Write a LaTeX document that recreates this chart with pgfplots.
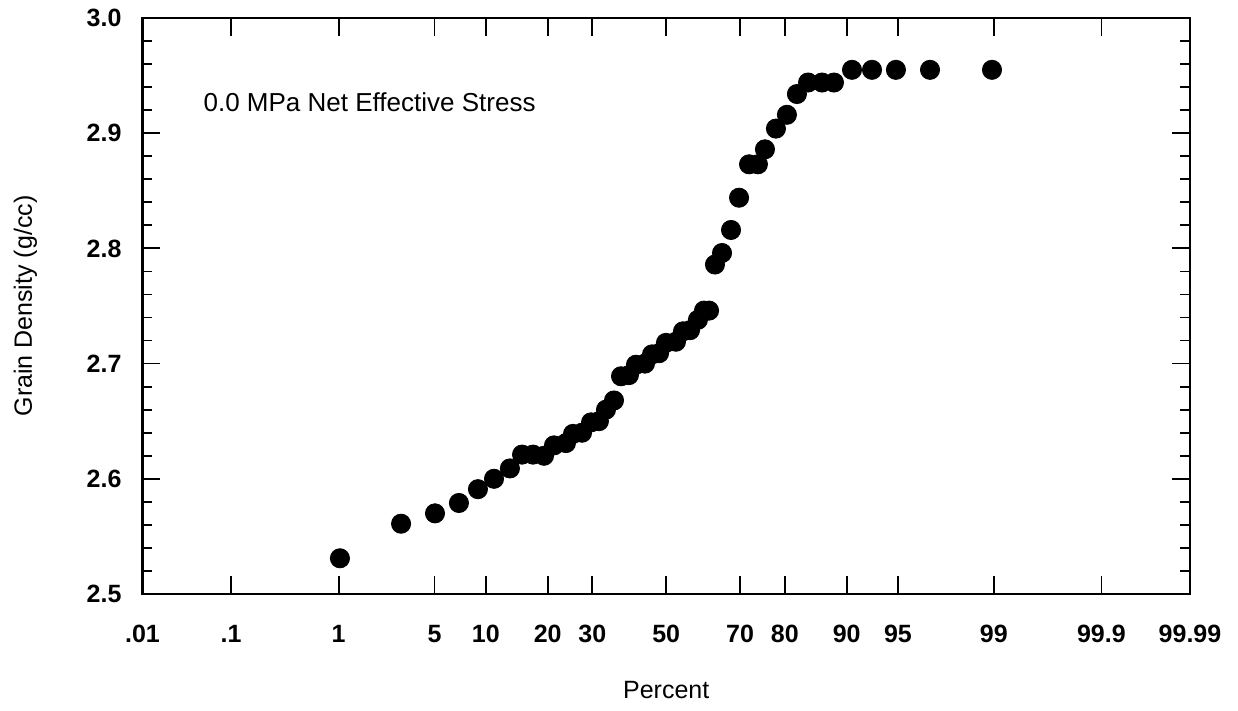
\documentclass[border=0pt]{standalone}
\usepackage{fontspec}
\setmainfont{Liberation Sans}
\usepackage{pgfplots}
\pgfplotsset{compat=1.18}

% x is the standard normal quantile of the cumulative percent
\pgfplotstableread{
z      rho
-2.317 2.531
-1.883 2.561
-1.642 2.570
-1.472 2.579
-1.337 2.591
-1.223 2.600
-1.110 2.609
-1.024 2.621
-0.946 2.621
-0.868 2.620
-0.797 2.629
-0.712 2.631
-0.662 2.639
-0.598 2.640
-0.534 2.649
-0.478 2.650
-0.428 2.660
-0.371 2.668
-0.321 2.689
-0.265 2.690
-0.215 2.699
-0.151 2.700
-0.101 2.708
-0.051 2.709
-0.002 2.718
0.069  2.719
0.119  2.728
0.169  2.729
0.225  2.738
0.268  2.746
0.304  2.746
0.346  2.786
0.396  2.796
0.460  2.816
0.517  2.844
0.588  2.873
0.651  2.873
0.701  2.886
0.779  2.904
0.857  2.916
0.928  2.934
1.007  2.944
1.106  2.944
1.191  2.944
1.319  2.955
1.461  2.955
1.631  2.955
1.873  2.955
2.313  2.955
}\grain

\begin{document}
\begin{tikzpicture}
\begin{axis}[
    at={(0,0)}, anchor=south west,
    scale only axis,
    width=523.75pt, height=288pt,
    xmin=-3.719, xmax=3.719,
    ymin=2.5, ymax=3.0,
    xtick={-3.719,-3.090,-2.326,-1.645,-1.2816,-0.8416,-0.5244,0,0.5244,0.8416,1.2816,1.645,2.326,3.090,3.719},
    xticklabels={.01,.1,1,5,10,20,30,50,70,80,90,95,99,99.9,99.99},
    ytick={2.5,2.6,2.7,2.8,2.9,3.0},
    yticklabels={2.5,2.6,2.7,2.8,2.9,3.0},
    minor y tick num=4,
    tick align=inside,
    major tick length=9pt,
    minor tick length=5pt,
    axis line style={line width=1.3pt},
    tick style={line width=0.9pt, black},
    ticklabel style={font=\fontsize{12.5}{14}\selectfont\bfseries},
    xticklabel style={yshift=-12pt},
    yticklabel style={xshift=-7pt},
    clip=false,
]
\addplot[only marks, mark=*, mark size=4.8pt, mark options={draw=black, fill=black}]
    table[x=z, y=rho] {\grain};

\node[anchor=west, font=\fontsize{13}{15}\selectfont] at (axis cs:-3.335,2.927)
    {0.0 MPa Net Effective Stress};
\node[font=\fontsize{12.5}{14}\selectfont] at (axis description cs:0.5,-0.1667) {Percent};
\node[rotate=90, font=\fontsize{12.5}{14}\selectfont] at (axis description cs:-0.1117,0.5)
    {Grain Density (g/cc)};
\end{axis}
\pgfresetboundingbox
\path[use as bounding box] (-71.25pt,-58.5pt) rectangle (547.75pt,297pt);
\end{tikzpicture}
\end{document}
